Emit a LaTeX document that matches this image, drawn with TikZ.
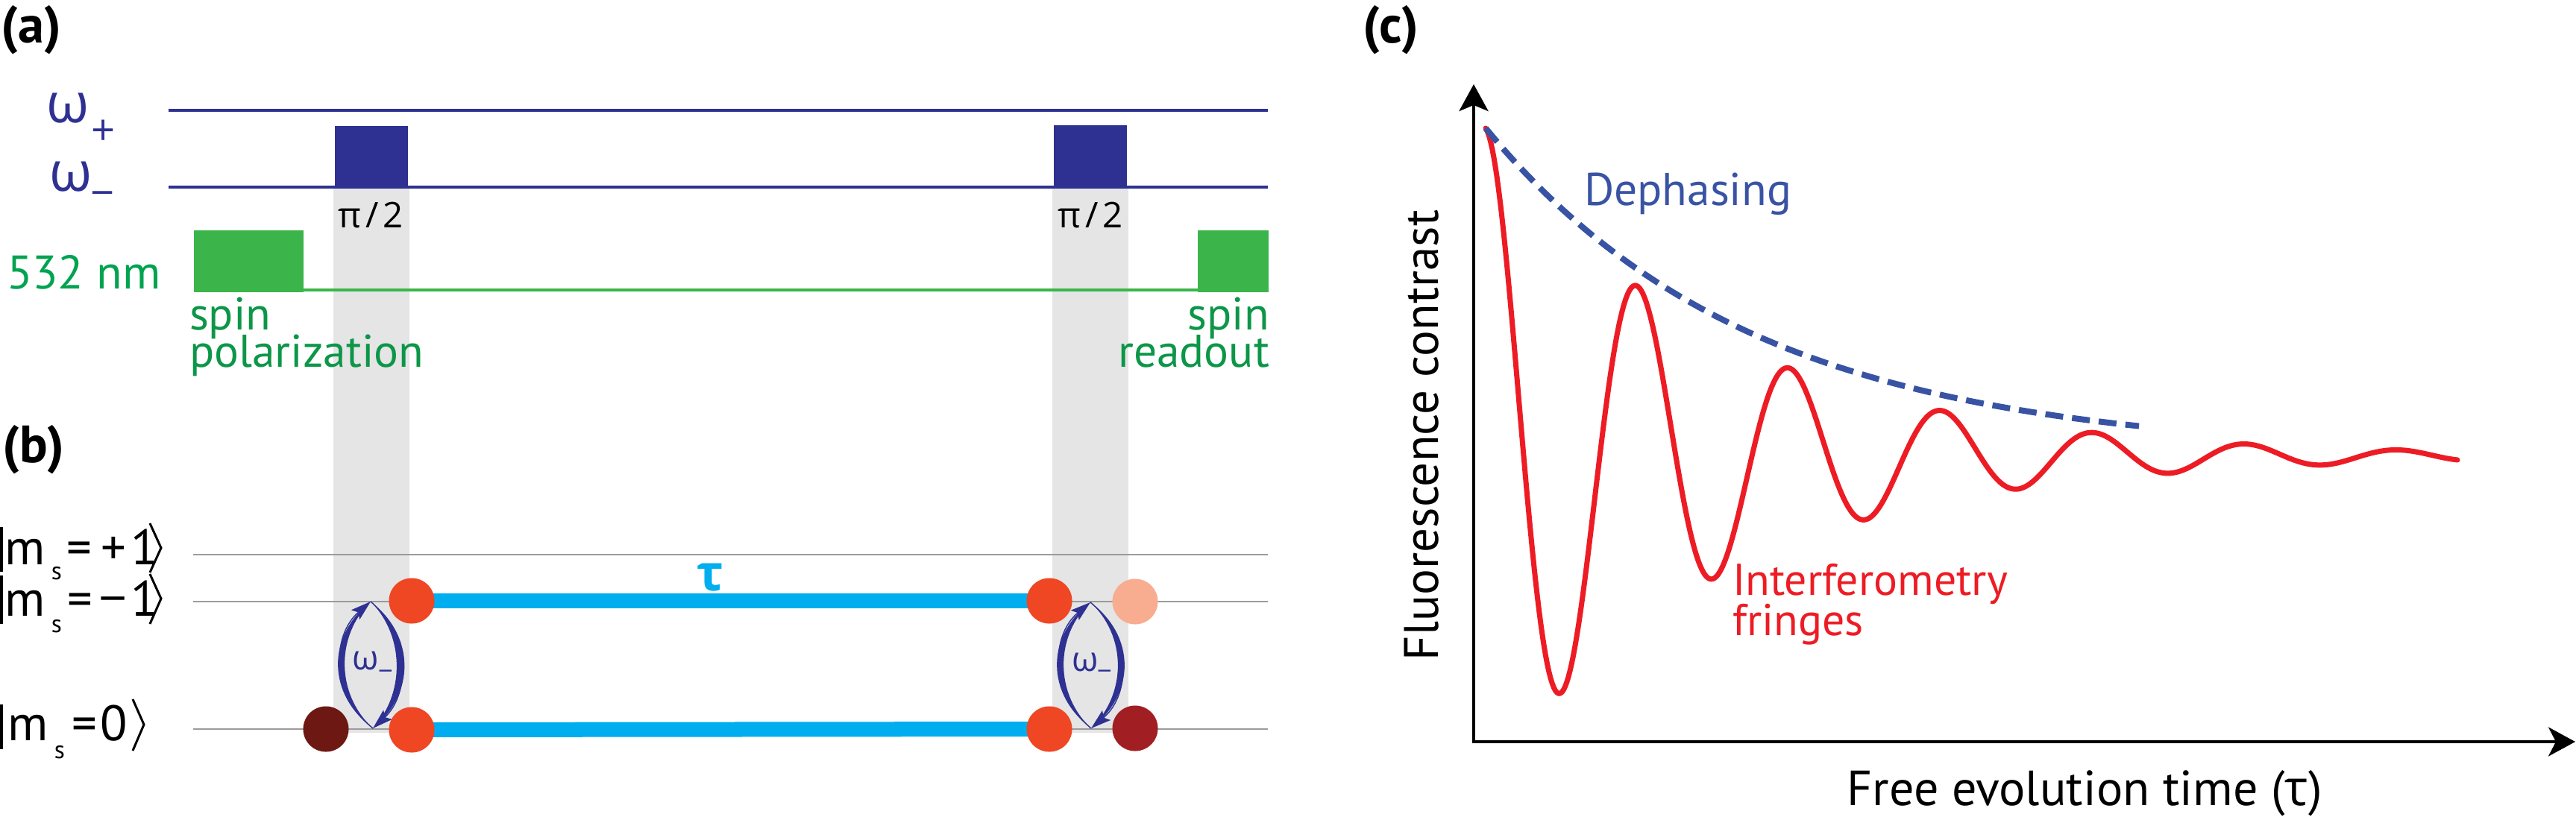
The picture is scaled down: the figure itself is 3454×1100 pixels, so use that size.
\documentclass[tikz,border=0pt]{standalone}
\usepackage{fontspec}
\setmainfont{PT Sans}
\newfontfamily\grk{Open Sans}
\usetikzlibrary{arrows.meta}
\definecolor{dblue}{RGB}{46,49,146}
\definecolor{pgreen}{RGB}{59,181,74}
\definecolor{tgreen}{RGB}{0,163,80}
\definecolor{tgreen2}{RGB}{12,150,72}
\definecolor{band}{RGB}{229,229,229}
\definecolor{lvl}{RGB}{155,155,155}
\definecolor{cyanb}{RGB}{0,174,239}
\definecolor{redc}{RGB}{239,70,35}
\definecolor{salmon}{RGB}{248,173,145}
\definecolor{maroon}{RGB}{110,24,19}
\definecolor{dred}{RGB}{161,31,34}
\definecolor{fred}{RGB}{237,28,36}
\definecolor{dashb}{RGB}{57,83,164}
\newcommand{\fsz}[1]{\fontsize{#1}{#1}\selectfont}
\pgfdeclarelayer{bg}
\pgfsetlayers{bg,main}
\begin{document}
\begin{tikzpicture}[x=0.01cm,y=-0.01cm,
  txt/.style={inner sep=0pt, outer sep=0pt},
  dot/.style={circle, inner sep=0pt, outer sep=0pt, minimum size=0.61cm},
  chan/.style={draw=dblue, line width=0.04cm},
  lvlline/.style={draw=lvl, line width=0.028cm},
  bar/.style={draw=cyanb, line width=0.2cm},
  ketline/.style={draw=black, line width=0.03cm},
  arr/.style={draw=dblue, line width=0.4pt, -{Stealth[length=0.27cm, width=0.17cm, inset=0.05cm]}},
  axis/.style={draw=black, line width=0.04cm, line join=miter,
     {Stealth[length=0.36cm, width=0.39cm, inset=0.08cm]}-{Stealth[length=0.36cm, width=0.39cm, inset=0.1cm]}},
  ket/.style={txt, font=\fsz{19}, anchor=base},
  kets/.style={txt, font=\fsz{9.5}, anchor=base},
]
\useasboundingbox (0,0) rectangle (3454,1100);

% ---------------- panel (a) ----------------
\node[txt, font=\fsz{20}\bfseries] (la) at (42,40) {(a)};
\node[txt, font=\fsz{21}\grk, text=dblue] (wp) at (91,145) {ω};
\node[txt, font=\fsz{16}\grk, text=dblue] (wps) at (139,178) {+};
\node[txt, font=\fsz{21}\grk, text=dblue] (wm) at (95,237) {ω};
\node[txt, font=\fsz{16}\grk, text=dblue] (wms) at (138,268) {−};

\coordinate (wpA) at (226,148); \coordinate (wpB) at (1700,148);
\coordinate (wmA) at (226,251); \coordinate (wmB) at (1700,251);
\draw[chan] (wpA) -- (wpB);
\fill[dblue] (449,169) rectangle (547,252);
\fill[dblue] (1413,168) rectangle (1511,252);
\draw[chan] (wmA) -- (wmB);

\node[txt, font=\fsz{13.5}\grk, anchor=base] (pi1) at (497,305) {π\kern0.12em/\kern0.12em2};
\node[txt, font=\fsz{13.5}\grk, anchor=base] (pi2) at (1462,305) {π\kern0.12em/\kern0.12em2};

\node[txt, font=\fsz{18}, text=tgreen, anchor=base west] (nm) at (9,387) {532 nm};
\fill[pgreen] (260,309) rectangle (407,392);
\fill[pgreen] (1606,309) rectangle (1701,392);
\coordinate (gA) at (260,389); \coordinate (gB) at (1701,389);
\draw[draw=pgreen, line width=0.04cm] (gA) -- (gB);

\node[txt, font=\fsz{17.5}, text=tgreen2, anchor=base west, text depth=0pt] (sp1) at (254,442) {spin};
\node[txt, font=\fsz{17.5}, text=tgreen2, anchor=base west, text height=0.9em] (pol) at (254,492) {polarization};
\node[txt, font=\fsz{17.5}, text=tgreen2, anchor=base east, text depth=0pt] (sp2) at (1702,442) {spin};
\node[txt, font=\fsz{17.5}, text=tgreen2, anchor=base east, text height=0.9em] (ro) at (1702,492) {readout};

% ---------------- panel (b) ----------------
\node[txt, font=\fsz{20}\bfseries] (lb) at (45,603) {(b)};

\node[ket] (k1m) at (34,757) {m};
\node[kets] (k1s) at (76,777) {s};
\node[ket] (k1eq) at (106,757) {=};
\node[ket] (k1pl) at (152,757) {+};
\node[ket] (k1one) at (194,757) {1};
\node[ket] (k2m) at (34,826) {m};
\node[kets] (k2s) at (76,848) {s};
\node[ket] (k2eq) at (107,826) {=};
\node[ket, font=\fsz{19}\grk] (k2mi) at (152,826) {−};
\node[ket] (k2one) at (194,826) {1};
\node[ket] (k3m) at (38,993) {m};
\node[kets] (k3s) at (80,1017) {s};
\node[ket] (k3eq) at (113,993) {=};
\node[ket] (k3z) at (153,993) {0};
\draw[ketline] (2,707) -- (2,767);
\draw[ketline] (201,702) -- (216,735) -- (201,768);
\draw[ketline] (2,772) -- (2,837);
\draw[ketline] (201,770) -- (216,803) -- (201,837);
\draw[ketline] (2,945) -- (2,1005);
\draw[ketline] (178,938) -- (193,972) -- (178,1007);

\node[dot, fill=maroon] (L0) at (437,978) {};
\node[dot, fill=redc] (A1) at (552,806) {};
\node[dot, fill=redc] (A0) at (552,979) {};
\node[dot, fill=redc] (B1) at (1407,806) {};
\node[dot, fill=redc] (B0) at (1407,978) {};
\node[dot, fill=salmon] (C1) at (1522,807) {};
\node[dot, fill=dred] (C0) at (1522,977) {};

\node[txt, font=\fsz{19}\grk\bfseries, text=cyanb] (tau) at (952,775) {τ};

\begin{pgfonlayer}{bg}
\fill[band] (447,251) rectangle (549,983);
\fill[band] (1411,251) rectangle (1513,983);
\coordinate (l1A) at (259,744); \coordinate (l1B) at (1700,744);
\coordinate (l2A) at (259,807); \coordinate (l2B) at (1700,807);
\coordinate (l3A) at (259,978); \coordinate (l3B) at (1700,978);
\draw[lvlline] (l1A) -- (l1B);
\draw[lvlline] (l2A) -- (l2B);
\draw[lvlline] (l3A) -- (l3B);
\draw[bar] (A1.center) -- (B1.center);
\draw[bar] (A0.center) -- (B0.center);
\end{pgfonlayer}

% transition arrows, left
\coordinate (T1) at (497,807); \coordinate (D1) at (500,977);
\fill[dblue] (D1) .. controls (438,931) and (438,853) .. (T1) .. controls (450,853) and (450,931) .. (D1) -- cycle;
\fill[dblue] (T1) .. controls (557,853) and (557,931) .. (D1) .. controls (543,931) and (543,853) .. (T1) -- cycle;
\draw[arr] (D1) .. controls (444,931) and (444,853) .. (T1);
\draw[arr] (T1) .. controls (550,853) and (550,931) .. (D1);
\node[txt, font=\fsz{13}\grk, text=dblue] (wl1) at (490,886) {ω};
\node[txt, font=\fsz{10}\grk, text=dblue] (wl1s) at (517,906) {−};

% transition arrows, right
\coordinate (T2) at (1462,808); \coordinate (D2) at (1463,977);
\fill[dblue] (D2) .. controls (1402,931) and (1402,853) .. (T2) .. controls (1414,853) and (1414,931) .. (D2) -- cycle;
\fill[dblue] (T2) .. controls (1523,853) and (1523,931) .. (D2) .. controls (1511,931) and (1511,853) .. (T2) -- cycle;
\draw[arr] (D2) .. controls (1408,931) and (1408,853) .. (T2);
\draw[arr] (T2) .. controls (1517,853) and (1517,931) .. (D2);
\node[txt, font=\fsz{13}\grk, text=dblue] (wl2) at (1455,888) {ω};
\node[txt, font=\fsz{10}\grk, text=dblue] (wl2s) at (1481,906) {−};

% ---------------- panel (c) ----------------
\node[txt, font=\fsz{20}\bfseries] (lc) at (1865,40) {(c)};
\coordinate (O) at (1976,995);
\coordinate (Yt) at (1976,113);
\coordinate (Xt) at (3453,995);
\draw[axis] (Yt) -- (O) -- (Xt);

\draw[fred, line width=0.07cm, line join=round, line cap=round]
  plot[domain=1992:3295, samples=600] (\x, {612 - 440*exp(-(\x-1992)/310)*cos(((\x-1992)/204)*360)});
\draw[dashb, line width=0.08cm, dash pattern=on 0.24cm off 0.12cm]
  plot[domain=1992:2868, samples=120] (\x, {610 - 438*exp(-(\x-1992)/360)});

\node[txt, font=\fsz{18.5}, rotate=90, anchor=base] (ylab) at (1928,584) {Fluorescence contrast};
\node[txt, font=\fsz{18.8}, anchor=base] (xlab) at (2795,1080) {Free evolution time ({\grk τ})};
\node[txt, font=\fsz{17.5}, text=dashb, anchor=base west] (deph) at (2124,275) {Dephasing};
\node[txt, font=\fsz{17}, text=fred, anchor=base west] (int) at (2323,798) {Interferometry};
\node[txt, font=\fsz{17}, text=fred, anchor=base west] (fr) at (2323,852) {fringes};
\end{tikzpicture}
\end{document}
